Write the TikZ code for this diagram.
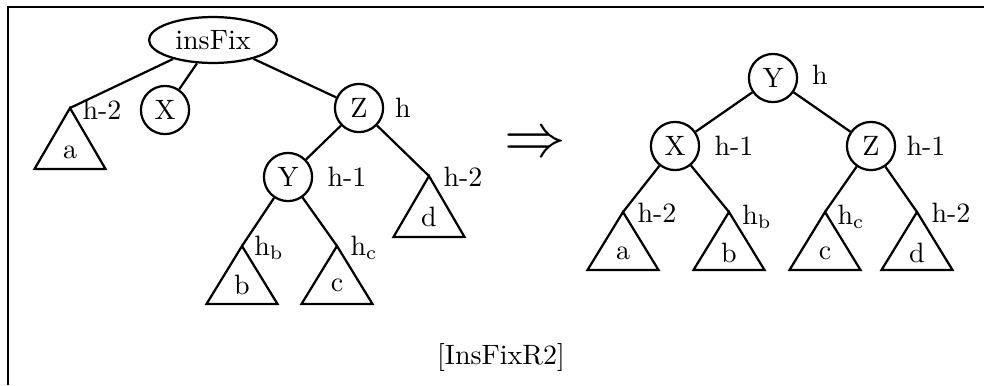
\documentclass[tikz,border=0pt]{standalone}
\usetikzlibrary{shapes.geometric}
\begin{document}
\begin{tikzpicture}[x=0.357143pt,y=-0.357143pt,
  vtx/.style={circle,draw,line width=0.8pt,minimum size=17.2pt,inner sep=0pt},
  fixnode/.style={ellipse,draw,line width=0.8pt,minimum width=45.7pt,minimum height=16.4pt,inner sep=0pt},
  edge/.style={line width=0.8pt},
  tri/.style={line width=0.8pt,line join=miter},
  lbl/.style={inner sep=0pt},
  frameline/.style={line width=0.9pt}]
\useasboundingbox (0,0) rectangle (984,385);
% frame
\coordinate (fa) at (8,385);
\coordinate (fb) at (8,7);
\coordinate (fc) at (984,7);
\draw[frameline] (fa) -- (fb) -- (fc);
% ---------- left tree ----------
\node[fixnode] (ins) at (213,40) {insFix};
\node[vtx] (X1) at (165,110) {X};
\node[vtx] (Z1) at (359,108) {Z};
\node[vtx] (Y1) at (288,177) {Y};
\coordinate (a1) at (70,108);
\coordinate (d1) at (429,176);
\coordinate (b1) at (242,246);
\coordinate (c1) at (337,246);
\draw[edge] (ins) -- (a1);
\draw[edge] (ins) -- (X1);
\draw[edge] (ins) -- (Z1);
\draw[edge] (Z1) -- (Y1);
\draw[edge] (Z1) -- (d1);
\draw[edge] (Y1) -- (b1);
\draw[edge] (Y1) -- (c1);
\draw[tri] (a1) -- ++(-35.5,61) -- ++(71,0) -- cycle;
\draw[tri] (d1) -- ++(-35.5,61) -- ++(71,0) -- cycle;
\draw[tri] (b1) -- ++(-35.5,58) -- ++(71,0) -- cycle;
\draw[tri] (c1) -- ++(-35.5,58) -- ++(71,0) -- cycle;
\node[lbl] (ta1) at (70,152) {a};
\node[lbl] (td1) at (429,217) {d};
\node[lbl] (tb1) at (242,285) {b};
\node[lbl] (tc1) at (337,285) {c};
\node[lbl] (la1) at (102,110) {h-2};
\node[lbl] (lz1) at (403,108) {h};
\node[lbl] (ly1) at (347,177) {h-1};
\node[lbl] (ld1) at (463,177) {h-2};
\node[lbl] (lb1) at (269,248) {h$_\mathrm{b}$};
\node[lbl] (lc1) at (364,248) {h$_\mathrm{c}$};
% arrow
\node[lbl,scale=2.2] (arr) at (535,145) {$\Rightarrow$};
% ---------- right tree ----------
\node[vtx] (Y2) at (773,78) {Y};
\node[vtx] (X2) at (675,146) {X};
\node[vtx] (Z2) at (871,146) {Z};
\coordinate (a2) at (623,212);
\coordinate (b2) at (729,212);
\coordinate (c2) at (825,212);
\coordinate (d2) at (917,212);
\draw[edge] (Y2) -- (X2);
\draw[edge] (Y2) -- (Z2);
\draw[edge] (X2) -- (a2);
\draw[edge] (X2) -- (b2);
\draw[edge] (Z2) -- (c2);
\draw[edge] (Z2) -- (d2);
\draw[tri] (a2) -- ++(-35.5,58) -- ++(71,0) -- cycle;
\draw[tri] (b2) -- ++(-35.5,58) -- ++(71,0) -- cycle;
\draw[tri] (c2) -- ++(-35.5,58) -- ++(71,0) -- cycle;
\draw[tri] (d2) -- ++(-35.5,58) -- ++(71,0) -- cycle;
\node[lbl] (ta2) at (623,253) {a};
\node[lbl] (tb2) at (729,253) {b};
\node[lbl] (tc2) at (825,253) {c};
\node[lbl] (td2) at (917,253) {d};
\node[lbl] (ly2) at (820,75) {h};
\node[lbl] (lx2) at (734,146) {h-1};
\node[lbl] (lz2) at (926,146) {h-1};
\node[lbl] (la2) at (657,213) {h-2};
\node[lbl] (lb2) at (757,217) {h$_\mathrm{b}$};
\node[lbl] (lc2) at (851,217) {h$_\mathrm{c}$};
\node[lbl] (ld2) at (951,213) {h-2};
% caption
\node[lbl] (cap) at (501,357) {[InsFixR2]};
\end{tikzpicture}
\end{document}
